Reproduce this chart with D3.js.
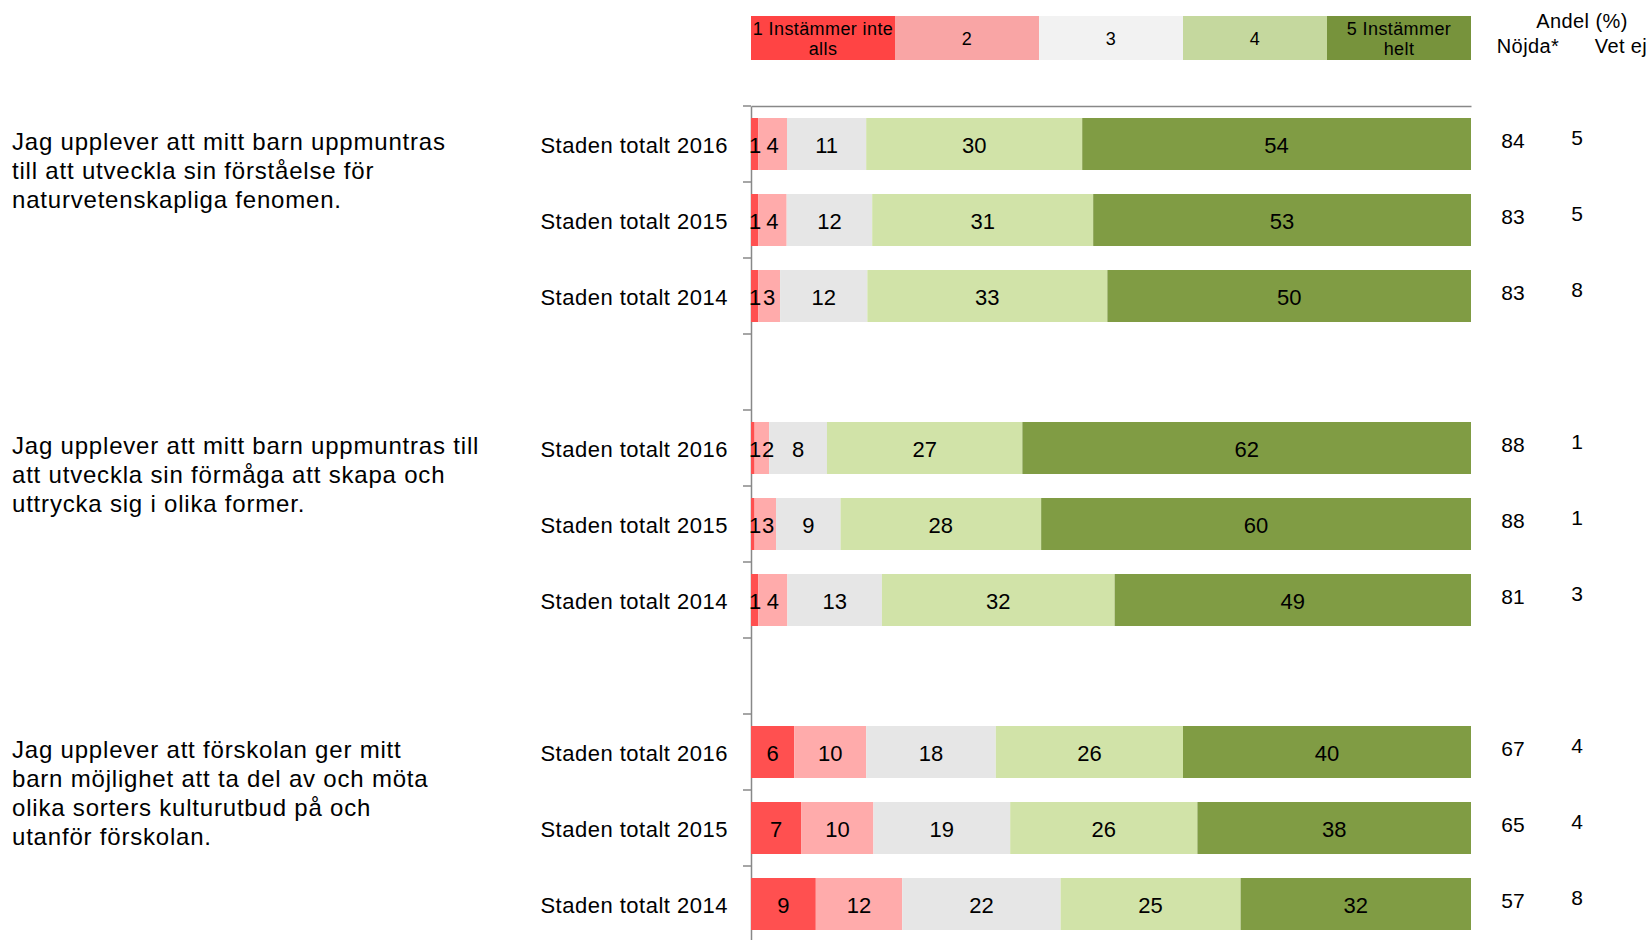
<!DOCTYPE html>
<html>
<head>
<meta charset="utf-8">
<script src="https://cdn.jsdelivr.net/npm/d3@7"></script>
<style>
    body { margin: 0; background: #fff; }
    svg { display: block; font-family: "Liberation Sans", Arial, sans-serif; }
    .axis path, .axis line { stroke: #888; stroke-width: 1.5; }
</style>
</head>
<body>
<div id="view"></div>
<script>

// answer scale, legend order
var categories = ["v1", "v2", "v3", "v4", "v5"];
var legendLines = [["1 Instämmer inte", "alls"], ["2"], ["3"], ["4"], ["5  Instämmer", "helt"]];
var barColors = ["#ff5050", "#ffabab", "#e6e6e6", "#d1e3a8", "#809c44"];
var legendColors = ["#ff4444", "#f9a5a5", "#f2f2f2", "#c5d89e", "#77933c"];

var questions = [
    ["Jag upplever att mitt barn uppmuntras", "till att utveckla sin förståelse för", "naturvetenskapliga fenomen."],
    ["Jag upplever att mitt barn uppmuntras till", "att utveckla sin förmåga att skapa och", "uttrycka sig i olika former."],
    ["Jag upplever att förskolan ger mitt", "barn möjlighet att ta del av och möta", "olika sorters kulturutbud på och", "utanför förskolan."],
];
var years = ["Staden totalt 2016", "Staden totalt 2015", "Staden totalt 2014"];

// one entry per row: q1 2016, 2015, 2014, q2 ..., q3 ...
var v1 = [1, 1, 1, 0.5, 0.5, 1, 6, 7, 9];
var v2 = [4, 4, 3, 2, 3, 4, 10, 10, 12];
var v3 = [11, 12, 12, 8, 9, 13, 18, 19, 22];
var v4 = [30, 31, 33, 27, 28, 32, 26, 26, 25];
var v5 = [54, 53, 50, 62, 60, 49, 40, 38, 32];
var nojda = [84, 83, 83, 88, 88, 81, 67, 65, 57];
var vetEj = [5, 5, 8, 1, 1, 3, 4, 4, 8];

var view = {
    width: 1650,
    height: 940,
    left: 751,
    right: 1471,
    top: 106,
    step: 76,
};

var rows = v1.map((d, i) => ({
    key: "r" + i,
    q: Math.floor(i / 3),
    year: years[i % 3],
    v1: v1[i], v2: v2[i], v3: v3[i], v4: v4[i], v5: v5[i],
    nojda: nojda[i],
    vetEj: vetEj[i],
}));

// rows plus an empty slot between questions
var slots = [];
rows.forEach((r, i) => {
    slots.push(r.key);
    if (i % 3 == 2 && i < rows.length - 1) slots.push("gap" + i);
});

var svg = d3.select("#view").append("svg")
    .attr("width", view.width)
    .attr("height", view.height)
;

var x = d3.scaleLinear()
    .domain([0, 1])
    .range([view.left, view.right])
;

var y = d3.scaleBand()
    .domain(slots)
    .range([view.top, view.top + slots.length * view.step])
    .paddingInner(0.316)
    .paddingOuter(0.158)
;

var stack = d3.stack()
    .keys(categories)
    .offset(d3.stackOffsetExpand)
;
var series = stack(rows);

drawLegend();
drawAxes();
drawBars();
drawLabels();

function drawLegend() {
    var lx = d3.scaleBand().domain(categories).range([view.left, view.right]);
    var g = svg.append("g").attr("class", "legend");
    var items = g.selectAll("g").data(categories).enter().append("g")
        .attr("transform", d => `translate(${lx(d)}, 16)`)
    ;
    items.append("rect")
        .attr("width", lx.bandwidth())
        .attr("height", 44)
        .attr("fill", (d, i) => legendColors[i])
    ;
    items.append("text")
        .attr("x", lx.bandwidth() / 2)
        .attr("text-anchor", "middle")
        .attr("font-size", 18)
        .attr("letter-spacing", 0.4)
        .each(function(d, i) {
            var lines = legendLines[i];
            var t = d3.select(this);
            lines.forEach((l, j) => {
                t.append("tspan")
                    .attr("x", lx.bandwidth() / 2)
                    .attr("y", 22 + (j - (lines.length - 1) / 2) * 20)
                    .attr("dy", "0.38em")
                    .text(l);
            });
        })
    ;

    var head = svg.append("g")
        .attr("font-size", 20)
        .attr("letter-spacing", 0.4)
        .attr("text-anchor", "middle")
    ;
    head.append("text").attr("x", 1582).attr("y", 21).attr("dy", "0.35em").text("Andel (%)");
    head.append("text").attr("x", 1528).attr("y", 46).attr("dy", "0.35em").text("Nöjda*");
    head.append("text").attr("x", 1621).attr("y", 46).attr("dy", "0.35em").text("Vet ej");
}

function drawAxes() {
    svg.append("g")
        .attr("class", "axis")
        .attr("transform", `translate(0, ${view.top})`)
        .call(d3.axisTop(x).tickValues([]).tickSizeOuter(0))
    ;
    svg.append("g")
        .attr("class", "axis")
        .attr("transform", `translate(${view.left}, 0)`)
        .call(d3.axisLeft(y).tickValues([]).tickSizeOuter(0))
    ;
    var bounds = d3.range(slots.length + 1).map(i => view.top + i * y.step());
    svg.append("g")
        .attr("class", "axis")
        .selectAll("line").data(bounds).enter().append("line")
        .attr("x1", view.left - 8)
        .attr("x2", view.left)
        .attr("y1", d => d)
        .attr("y2", d => d)
    ;
}

// tiny first segments: put their label just at the axis and push the next one right
function labelX(d) {
    var mid = x((d.s[0] + d.s[1]) / 2);
    var tiny = x(d.s.data.v1 / d3.sum(categories, k => d.s.data[k])) - view.left < 12;
    if (!tiny) return mid;
    if (d.key == "v1") return view.left - 2;
    if (d.key == "v2") return Math.max(mid, view.left + 17);
    return mid;
}

function drawBars() {
    var layers = svg.append("g").attr("class", "bars")
        .selectAll("g").data(series).enter().append("g")
        .attr("fill", (d, i) => barColors[i])
    ;
    layers.selectAll("rect").data(d => d).enter().append("rect")
        .attr("x", d => x(d[0]))
        .attr("y", d => y(d.data.key))
        .attr("width", d => x(d[1]) - x(d[0]))
        .attr("height", y.bandwidth())
    ;
    var labels = series.flatMap((d, i) => d.map(s => ({s: s, key: categories[i]})));
    svg.append("g").attr("class", "values")
        .selectAll("text").data(labels).enter().append("text")
        .attr("x", labelX)
        .attr("y", d => y(d.s.data.key) + y.bandwidth() / 2)
        .attr("dy", "0.42em")
        .attr("text-anchor", d => labelX(d) == view.left - 2 ? "start" : "middle")
        .attr("font-size", 22)
        .attr("fill", "#000")
        .text(d => Math.round(d.s.data[d.key]))
    ;
}

function drawLabels() {
    var g = svg.append("g").attr("class", "labels");
    g.selectAll(".year").data(rows).enter().append("text")
        .attr("class", "year")
        .attr("x", 728)
        .attr("y", d => y(d.key) + y.bandwidth() / 2)
        .attr("dy", "0.42em")
        .attr("text-anchor", "end")
        .attr("font-size", 22)
        .attr("letter-spacing", 0.5)
        .text(d => d.year)
    ;
    g.selectAll(".nojda").data(rows).enter().append("text")
        .attr("class", "nojda")
        .attr("x", 1513)
        .attr("y", d => y(d.key) + y.bandwidth() / 2 - 3)
        .attr("dy", "0.35em")
        .attr("text-anchor", "middle")
        .attr("font-size", 21)
        .text(d => d.nojda)
    ;
    g.selectAll(".vetej").data(rows).enter().append("text")
        .attr("class", "vetej")
        .attr("x", 1577)
        .attr("y", d => y(d.key) + y.bandwidth() / 2 - 6)
        .attr("dy", "0.35em")
        .attr("text-anchor", "middle")
        .attr("font-size", 21)
        .text(d => d.vetEj)
    ;
    g.selectAll(".question").data(questions).enter().append("text")
        .attr("class", "question")
        .attr("font-size", 24)
        .attr("letter-spacing", 0.8)
        .each(function(lines, qi) {
            var top = y(rows[qi * 3].key) + y.bandwidth() / 2 - 2;
            var t = d3.select(this);
            lines.forEach((l, j) => {
                t.append("tspan")
                    .attr("x", 12)
                    .attr("y", top + j * 29)
                    .attr("dy", "0.35em")
                    .text(l);
            });
        })
    ;
}

</script>
</body>
</html>
